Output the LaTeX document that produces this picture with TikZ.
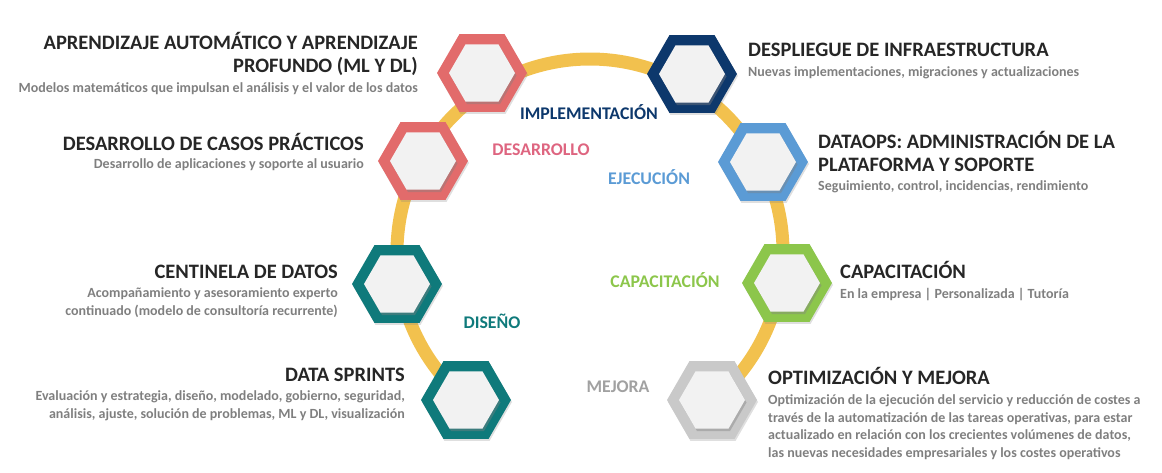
\documentclass[tikz,border=0pt]{standalone}
\usepackage{fontspec}
\setmainfont{Carlito}
\usetikzlibrary{shapes.geometric,shadows}
\definecolor{Rojo}{HTML}{E26B6B}
\definecolor{Marino}{HTML}{0D386C}
\definecolor{Azul}{HTML}{5B9BD5}
\definecolor{Teal}{HTML}{0F7A7B}
\definecolor{Lima}{HTML}{8CC64B}
\definecolor{Gris}{HTML}{C9C9C9}
\definecolor{Amarillo}{HTML}{F2C14E}
\definecolor{Rosa}{HTML}{DE6580}
\definecolor{Core}{HTML}{F2F2F2}
\definecolor{Ink}{HTML}{262626}
\definecolor{Muted}{HTML}{7F7F7F}

\begin{document}
\begin{tikzpicture}[x=1pt,y=-1pt,
    hexa/.style={regular polygon,regular polygon sides=6,minimum size=90pt,inner sep=0pt,fill=#1,
      drop shadow={shadow xshift=1pt,shadow yshift=-2pt,opacity=.25}},
    nucleo/.style={regular polygon,regular polygon sides=6,minimum size=66pt,inner sep=0pt,fill=Core,
      drop shadow={shadow xshift=1.5pt,shadow yshift=-2.5pt,opacity=.4}},
    etapa/.style={font=\fontsize{17.8}{20}\selectfont\bfseries,text=#1,inner sep=0pt,anchor=base},
    titulo/.style={font=\fontsize{20.5}{23}\selectfont\bfseries,text=Ink,inner sep=0pt},
    sub/.style={font=\fontsize{14}{17.7}\selectfont\bfseries,text=Muted,inner sep=0pt}]
  \useasboundingbox (0,0) rectangle (1162,473);
  \coordinate (ctr) at (590,252);
  \draw[Amarillo,line width=13pt] (ctr) ++(50:193) arc[start angle=50,end angle=-230,radius=193];

  % hexagonos
  \node[hexa=Rojo] (ml) at (482,73) {};        \node[nucleo] at (ml) {};
  \node[hexa=Rojo] (casos) at (423,161) {};    \node[nucleo] at (casos) {};
  \node[hexa=Teal] (centinela) at (397,284) {};\node[nucleo] at (centinela) {};
  \node[hexa=Teal] (sprints) at (466,400) {};  \node[nucleo] at (sprints) {};
  \node[hexa=Marino] (infra) at (692,74) {};   \node[nucleo] at (infra) {};
  \node[hexa=Azul] (dataops) at (763,162) {};  \node[nucleo] at (dataops) {};
  \node[hexa=Lima] (capac) at (787,283) {};    \node[nucleo] at (capac) {};
  \node[hexa=Gris] (mejora) at (712,400) {};   \node[nucleo] at (mejora) {};

  % etapas
  \node[etapa=Marino] (e1) at (589,119.7) {IMPLEMENTACIÓN};
  \node[etapa=Rosa] (e2) at (541,155.7) {DESARROLLO};
  \node[etapa=Azul] (e3) at (649,184.7) {EJECUCIÓN};
  \node[etapa=Teal] (e4) at (492,328.7) {DISEÑO};
  \node[etapa=Lima] (e5) at (665,287.7) {CAPACITACIÓN};
  \node[etapa=Gris!80!black] (e6) at (618,392.7) {MEJORA};

  % textos izquierda (base = ultima linea)
  \node[titulo,anchor=base east,align=right] (t1) at (418,73) {APRENDIZAJE AUTOMÁTICO Y APRENDIZAJE\\PROFUNDO (ML Y DL)};
  \node[sub,anchor=base east] (s1) at (418,92.5) {Modelos matemáticos que impulsan el análisis y el valor de los datos};
  \node[titulo,anchor=base east] (t2) at (364,150.6) {DESARROLLO DE CASOS PRÁCTICOS};
  \node[sub,anchor=base east] (s2) at (364,168.5) {Desarrollo de aplicaciones y soporte al usuario};
  \node[titulo,anchor=base east] (t3) at (338,278.6) {CENTINELA DE DATOS};
  \node[sub,anchor=base east,align=right] (s3) at (338,315.5) {Acompañamiento y asesoramiento experto\\continuado (modelo de consultoría recurrente)};
  \node[titulo,anchor=base east] (t4) at (405,381.6) {DATA SPRINTS};
  \node[sub,anchor=base east,align=right] (s4) at (405,418) {Evaluación y estrategia, diseño, modelado, gobierno, seguridad,\\análisis, ajuste, solución de problemas, ML y DL, visualización};

  % textos derecha
  \node[titulo,anchor=base west] (t5) at (748,56.6) {DESPLIEGUE DE INFRAESTRUCTURA};
  \node[sub,anchor=base west] (s5) at (748,76.5) {Nuevas implementaciones, migraciones y actualizaciones};
  \node[titulo,anchor=base west,align=left] (t6) at (818,171.6) {DATAOPS: ADMINISTRACIÓN DE LA\\PLATAFORMA Y SOPORTE};
  \node[sub,anchor=base west] (s6) at (818,190.5) {Seguimiento, control, incidencias, rendimiento};
  \node[titulo,anchor=base west] (t7) at (840,278.6) {CAPACITACIÓN};
  \node[sub,anchor=base west] (s7) at (840,298.5) {En la empresa | Personalizada | Tutoría};
  \node[titulo,anchor=base west] (t8) at (768,384.6) {OPTIMIZACIÓN Y MEJORA};
  \node[sub,anchor=base west,align=left] (s8) at (768,457.6) {Optimización de la ejecución del servicio y reducción de costes a\\través de la automatización de las tareas operativas, para estar\\actualizado en relación con los crecientes volúmenes de datos,\\las nuevas necesidades empresariales y los costes operativos};
\end{tikzpicture}
\end{document}
